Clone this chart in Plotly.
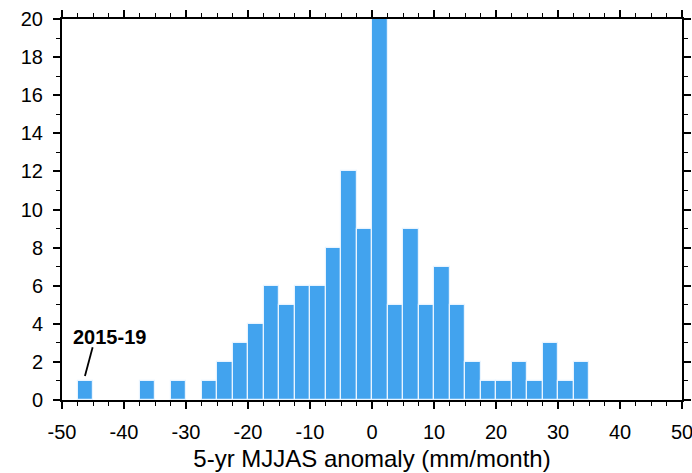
import plotly.graph_objects as go

# Histogram of 5-yr MJJAS anomalies, 2.5 mm/month bins
bin_centers = [-46.25, -36.25, -31.25, -26.25, -23.75, -21.25, -18.75, -16.25,
               -13.75, -11.25, -8.75, -6.25, -3.75, -1.25, 1.25, 3.75, 6.25,
               8.75, 11.25, 13.75, 16.25, 18.75, 21.25, 23.75, 26.25, 28.75,
               31.25, 33.75]
counts = [1, 1, 1, 1, 2, 3, 4, 6, 5, 6, 6, 8, 12, 9, 20, 5, 9, 5, 7, 5, 2, 1,
          1, 2, 1, 3, 1, 2]
bin_width = 2.5

x_ticks = [-50, -40, -30, -20, -10, 0, 10, 20, 30, 40, 50]
y_ticks = [0, 2, 4, 6, 8, 10, 12, 14, 16, 18, 20]

label_text = "2015-19"
label_pos = (-42.4, 3.3)
leader = ((-46.3, 1.26), (-45.06, 2.77))

font_family = "Liberation Sans, Arial, Helvetica, sans-serif"

fig = go.Figure()
fig.add_trace(go.Bar(
    x=bin_centers,
    y=counts,
    width=[bin_width] * len(bin_centers),
    marker=dict(color="#42a3ee", line=dict(color="#e8f4ff", width=1.2)),
    hoverinfo="x+y",
))

axis_common = dict(
    showline=True,
    linecolor="black",
    linewidth=2,
    mirror="ticks",
    ticks="outside",
    ticklen=7,
    tickwidth=1.6,
    tickcolor="black",
    showgrid=False,
    zeroline=False,
    automargin=False,
    ticklabeloverflow="allow",
    tickfont=dict(family=font_family, size=20, color="black"),
)

fig.update_xaxes(
    range=[-50, 50],
    tickvals=x_ticks,
    ticktext=[str(v) for v in x_ticks],
    ticklabelstandoff=6,
    minor=dict(dtick=2.5, tick0=0, ticks="outside", ticklen=4, tickwidth=1.4,
               tickcolor="black", showgrid=False),
    title=dict(text="5-yr MJJAS anomaly (mm/month)",
               font=dict(family=font_family, size=24, color="black"),
               standoff=8),
    **axis_common,
)
fig.update_yaxes(
    range=[0, 20],
    tickvals=y_ticks,
    ticktext=[str(v) for v in y_ticks],
    ticklabelstandoff=6,
    minor=dict(dtick=1, tick0=0, ticks="outside", ticklen=4, tickwidth=1.4,
               tickcolor="black", showgrid=False),
    **axis_common,
)

fig.add_shape(type="line", xref="x", yref="y",
              x0=leader[0][0], y0=leader[0][1], x1=leader[1][0], y1=leader[1][1],
              line=dict(color="black", width=1.8))
fig.add_annotation(x=label_pos[0], y=label_pos[1], xref="x", yref="y",
                   text="<b>" + label_text + "</b>", showarrow=False,
                   font=dict(family=font_family, size=20, color="black"))

fig.update_layout(
    width=692,
    height=473,
    margin=dict(l=62, r=10, t=19, b=73),
    paper_bgcolor="white",
    plot_bgcolor="white",
    showlegend=False,
    bargap=0,
)

fig.write_html("out.html")
